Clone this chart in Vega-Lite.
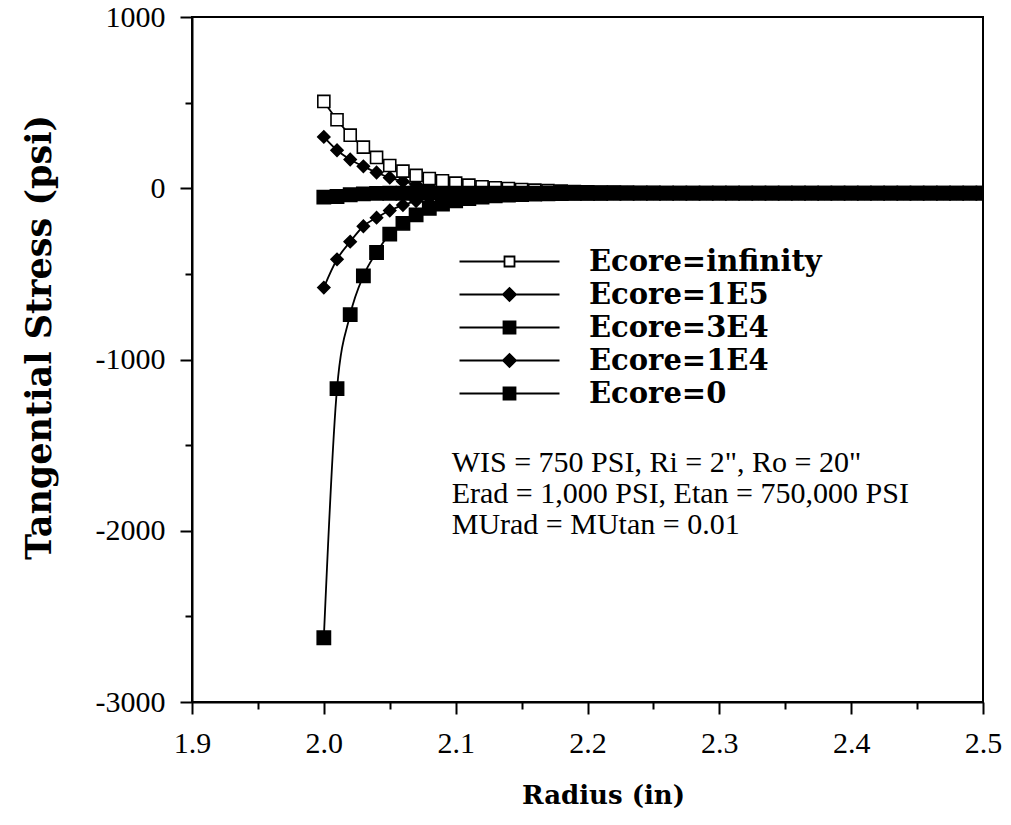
{
"$schema": "https://vega.github.io/schema/vega-lite/v6.json",
"width": 791, "height": 685,
"autosize": {"type": "none"},
"padding": {"left": 192, "top": 17, "right": 28, "bottom": 123},
"background": "white",
"config": {
 "view": {"stroke": "black", "strokeWidth": 2},
 "axis": {"domainColor": "black", "domainWidth": 2, "tickColor": "black", "tickWidth": 2, "labelColor": "black", "labelFont": "Liberation Serif", "labelFontSize": 30, "titleColor": "black", "titleFont": "DejaVu Serif", "titleFontWeight": "bold", "titleFontSize": 26, "grid": false},
 "legend": {"orient": "none", "legendX": 303, "legendY": 230, "padding": 0, "symbolSize": 400, "labelOffset": 65, "labelFont": "DejaVu Serif", "labelFontWeight": "bold", "labelFontSize": 29, "labelColor": "black", "labelLimit": 400, "rowPadding": 3, "symbolOpacity": 1, "symbolStrokeColor": "black", "symbolStrokeWidth": 1.8}
},
"datasets": {
"notes": [
 {"r": 2.097, "s": -1604, "label": "WIS = 750 PSI, Ri = 2\", Ro = 20\""},
 {"r": 2.097, "s": -1784, "label": "Erad = 1,000 PSI, Etan = 750,000 PSI"},
 {"r": 2.097, "s": -1964, "label": "MUrad = MUtan = 0.01"}
],
"curves": [
{"r":2.00,"s":300,"k":"Ecore=1E5"},{"r":2.01,"s":222,"k":"Ecore=1E5"},{"r":2.02,"s":168,"k":"Ecore=1E5"},{"r":2.03,"s":128,"k":"Ecore=1E5"},{"r":2.04,"s":92,"k":"Ecore=1E5"},{"r":2.05,"s":62,"k":"Ecore=1E5"},{"r":2.06,"s":40,"k":"Ecore=1E5"},{"r":2.07,"s":22,"k":"Ecore=1E5"},{"r":2.08,"s":10,"k":"Ecore=1E5"},{"r":2.09,"s":0,"k":"Ecore=1E5"},
{"r":2.10,"s":-7,"k":"Ecore=1E5"},{"r":2.11,"s":-12,"k":"Ecore=1E5"},{"r":2.12,"s":-16,"k":"Ecore=1E5"},{"r":2.13,"s":-19,"k":"Ecore=1E5"},{"r":2.14,"s":-21,"k":"Ecore=1E5"},{"r":2.15,"s":-23,"k":"Ecore=1E5"},{"r":2.16,"s":-24,"k":"Ecore=1E5"},{"r":2.17,"s":-25,"k":"Ecore=1E5"},{"r":2.18,"s":-26,"k":"Ecore=1E5"},{"r":2.19,"s":-26,"k":"Ecore=1E5"},
{"r":2.20,"s":-27,"k":"Ecore=1E5"},{"r":2.21,"s":-27,"k":"Ecore=1E5"},{"r":2.22,"s":-27,"k":"Ecore=1E5"},{"r":2.23,"s":-27,"k":"Ecore=1E5"},{"r":2.24,"s":-28,"k":"Ecore=1E5"},{"r":2.25,"s":-28,"k":"Ecore=1E5"},{"r":2.26,"s":-28,"k":"Ecore=1E5"},{"r":2.27,"s":-28,"k":"Ecore=1E5"},{"r":2.28,"s":-28,"k":"Ecore=1E5"},{"r":2.29,"s":-28,"k":"Ecore=1E5"},
{"r":2.30,"s":-28,"k":"Ecore=1E5"},{"r":2.31,"s":-28,"k":"Ecore=1E5"},{"r":2.32,"s":-28,"k":"Ecore=1E5"},{"r":2.33,"s":-28,"k":"Ecore=1E5"},{"r":2.34,"s":-28,"k":"Ecore=1E5"},{"r":2.35,"s":-28,"k":"Ecore=1E5"},{"r":2.36,"s":-28,"k":"Ecore=1E5"},{"r":2.37,"s":-28,"k":"Ecore=1E5"},{"r":2.38,"s":-28,"k":"Ecore=1E5"},{"r":2.39,"s":-28,"k":"Ecore=1E5"},
{"r":2.40,"s":-28,"k":"Ecore=1E5"},{"r":2.41,"s":-28,"k":"Ecore=1E5"},{"r":2.42,"s":-28,"k":"Ecore=1E5"},{"r":2.43,"s":-28,"k":"Ecore=1E5"},{"r":2.44,"s":-28,"k":"Ecore=1E5"},{"r":2.45,"s":-28,"k":"Ecore=1E5"},{"r":2.46,"s":-28,"k":"Ecore=1E5"},{"r":2.47,"s":-28,"k":"Ecore=1E5"},{"r":2.48,"s":-28,"k":"Ecore=1E5"},{"r":2.49,"s":-28,"k":"Ecore=1E5"},{"r":2.50,"s":-28,"k":"Ecore=1E5"},

{"r":2.00,"s":507,"k":"Ecore=infinity"},{"r":2.01,"s":400,"k":"Ecore=infinity"},{"r":2.02,"s":310,"k":"Ecore=infinity"},{"r":2.03,"s":240,"k":"Ecore=infinity"},{"r":2.04,"s":180,"k":"Ecore=infinity"},{"r":2.05,"s":133,"k":"Ecore=infinity"},{"r":2.06,"s":100,"k":"Ecore=infinity"},{"r":2.07,"s":75,"k":"Ecore=infinity"},{"r":2.08,"s":57,"k":"Ecore=infinity"},{"r":2.09,"s":44,"k":"Ecore=infinity"},
{"r":2.10,"s":30,"k":"Ecore=infinity"},{"r":2.11,"s":18,"k":"Ecore=infinity"},{"r":2.12,"s":9,"k":"Ecore=infinity"},{"r":2.13,"s":3,"k":"Ecore=infinity"},{"r":2.14,"s":-2,"k":"Ecore=infinity"},{"r":2.15,"s":-7,"k":"Ecore=infinity"},{"r":2.16,"s":-11,"k":"Ecore=infinity"},{"r":2.17,"s":-14,"k":"Ecore=infinity"},{"r":2.18,"s":-17,"k":"Ecore=infinity"},{"r":2.19,"s":-19,"k":"Ecore=infinity"},
{"r":2.20,"s":-21,"k":"Ecore=infinity"},{"r":2.21,"s":-22,"k":"Ecore=infinity"},{"r":2.22,"s":-23,"k":"Ecore=infinity"},{"r":2.23,"s":-24,"k":"Ecore=infinity"},{"r":2.24,"s":-25,"k":"Ecore=infinity"},{"r":2.25,"s":-25,"k":"Ecore=infinity"},{"r":2.26,"s":-26,"k":"Ecore=infinity"},{"r":2.27,"s":-26,"k":"Ecore=infinity"},{"r":2.28,"s":-26,"k":"Ecore=infinity"},{"r":2.29,"s":-26,"k":"Ecore=infinity"},
{"r":2.30,"s":-27,"k":"Ecore=infinity"},{"r":2.31,"s":-27,"k":"Ecore=infinity"},{"r":2.32,"s":-27,"k":"Ecore=infinity"},{"r":2.33,"s":-27,"k":"Ecore=infinity"},{"r":2.34,"s":-27,"k":"Ecore=infinity"},{"r":2.35,"s":-27,"k":"Ecore=infinity"},{"r":2.36,"s":-28,"k":"Ecore=infinity"},{"r":2.37,"s":-28,"k":"Ecore=infinity"},{"r":2.38,"s":-28,"k":"Ecore=infinity"},{"r":2.39,"s":-28,"k":"Ecore=infinity"},
{"r":2.40,"s":-28,"k":"Ecore=infinity"},{"r":2.41,"s":-28,"k":"Ecore=infinity"},{"r":2.42,"s":-28,"k":"Ecore=infinity"},{"r":2.43,"s":-28,"k":"Ecore=infinity"},{"r":2.44,"s":-28,"k":"Ecore=infinity"},{"r":2.45,"s":-28,"k":"Ecore=infinity"},{"r":2.46,"s":-28,"k":"Ecore=infinity"},{"r":2.47,"s":-28,"k":"Ecore=infinity"},{"r":2.48,"s":-28,"k":"Ecore=infinity"},{"r":2.49,"s":-28,"k":"Ecore=infinity"},{"r":2.50,"s":-28,"k":"Ecore=infinity"},

{"r":2.00,"s":-580,"k":"Ecore=1E4"},{"r":2.01,"s":-415,"k":"Ecore=1E4"},{"r":2.02,"s":-312,"k":"Ecore=1E4"},{"r":2.03,"s":-222,"k":"Ecore=1E4"},{"r":2.04,"s":-172,"k":"Ecore=1E4"},{"r":2.05,"s":-130,"k":"Ecore=1E4"},{"r":2.06,"s":-98,"k":"Ecore=1E4"},{"r":2.07,"s":-75,"k":"Ecore=1E4"},{"r":2.08,"s":-58,"k":"Ecore=1E4"},{"r":2.09,"s":-47,"k":"Ecore=1E4"},
{"r":2.10,"s":-40,"k":"Ecore=1E4"},{"r":2.11,"s":-36,"k":"Ecore=1E4"},{"r":2.12,"s":-33,"k":"Ecore=1E4"},{"r":2.13,"s":-31,"k":"Ecore=1E4"},{"r":2.14,"s":-30,"k":"Ecore=1E4"},{"r":2.15,"s":-29,"k":"Ecore=1E4"},{"r":2.16,"s":-29,"k":"Ecore=1E4"},{"r":2.17,"s":-28,"k":"Ecore=1E4"},{"r":2.18,"s":-28,"k":"Ecore=1E4"},{"r":2.19,"s":-28,"k":"Ecore=1E4"},
{"r":2.20,"s":-28,"k":"Ecore=1E4"},{"r":2.21,"s":-28,"k":"Ecore=1E4"},{"r":2.22,"s":-28,"k":"Ecore=1E4"},{"r":2.23,"s":-28,"k":"Ecore=1E4"},{"r":2.24,"s":-28,"k":"Ecore=1E4"},{"r":2.25,"s":-28,"k":"Ecore=1E4"},{"r":2.26,"s":-28,"k":"Ecore=1E4"},{"r":2.27,"s":-28,"k":"Ecore=1E4"},{"r":2.28,"s":-28,"k":"Ecore=1E4"},{"r":2.29,"s":-28,"k":"Ecore=1E4"},
{"r":2.30,"s":-28,"k":"Ecore=1E4"},{"r":2.31,"s":-28,"k":"Ecore=1E4"},{"r":2.32,"s":-28,"k":"Ecore=1E4"},{"r":2.33,"s":-28,"k":"Ecore=1E4"},{"r":2.34,"s":-28,"k":"Ecore=1E4"},{"r":2.35,"s":-28,"k":"Ecore=1E4"},{"r":2.36,"s":-28,"k":"Ecore=1E4"},{"r":2.37,"s":-28,"k":"Ecore=1E4"},{"r":2.38,"s":-28,"k":"Ecore=1E4"},{"r":2.39,"s":-28,"k":"Ecore=1E4"},
{"r":2.40,"s":-28,"k":"Ecore=1E4"},{"r":2.41,"s":-28,"k":"Ecore=1E4"},{"r":2.42,"s":-28,"k":"Ecore=1E4"},{"r":2.43,"s":-28,"k":"Ecore=1E4"},{"r":2.44,"s":-28,"k":"Ecore=1E4"},{"r":2.45,"s":-28,"k":"Ecore=1E4"},{"r":2.46,"s":-28,"k":"Ecore=1E4"},{"r":2.47,"s":-28,"k":"Ecore=1E4"},{"r":2.48,"s":-28,"k":"Ecore=1E4"},{"r":2.49,"s":-28,"k":"Ecore=1E4"},{"r":2.50,"s":-28,"k":"Ecore=1E4"},

{"r":2.00,"s":-2625,"k":"Ecore=0"},{"r":2.01,"s":-1170,"k":"Ecore=0"},{"r":2.02,"s":-738,"k":"Ecore=0"},{"r":2.03,"s":-512,"k":"Ecore=0"},{"r":2.04,"s":-375,"k":"Ecore=0"},{"r":2.05,"s":-268,"k":"Ecore=0"},{"r":2.06,"s":-205,"k":"Ecore=0"},{"r":2.07,"s":-155,"k":"Ecore=0"},{"r":2.08,"s":-118,"k":"Ecore=0"},{"r":2.09,"s":-92,"k":"Ecore=0"},
{"r":2.10,"s":-74,"k":"Ecore=0"},{"r":2.11,"s":-61,"k":"Ecore=0"},{"r":2.12,"s":-52,"k":"Ecore=0"},{"r":2.13,"s":-45,"k":"Ecore=0"},{"r":2.14,"s":-40,"k":"Ecore=0"},{"r":2.15,"s":-37,"k":"Ecore=0"},{"r":2.16,"s":-34,"k":"Ecore=0"},{"r":2.17,"s":-32,"k":"Ecore=0"},{"r":2.18,"s":-31,"k":"Ecore=0"},{"r":2.19,"s":-30,"k":"Ecore=0"},
{"r":2.20,"s":-29,"k":"Ecore=0"},{"r":2.21,"s":-29,"k":"Ecore=0"},{"r":2.22,"s":-28,"k":"Ecore=0"},{"r":2.23,"s":-28,"k":"Ecore=0"},{"r":2.24,"s":-28,"k":"Ecore=0"},{"r":2.25,"s":-28,"k":"Ecore=0"},{"r":2.26,"s":-28,"k":"Ecore=0"},{"r":2.27,"s":-28,"k":"Ecore=0"},{"r":2.28,"s":-28,"k":"Ecore=0"},{"r":2.29,"s":-28,"k":"Ecore=0"},
{"r":2.30,"s":-28,"k":"Ecore=0"},{"r":2.31,"s":-28,"k":"Ecore=0"},{"r":2.32,"s":-28,"k":"Ecore=0"},{"r":2.33,"s":-28,"k":"Ecore=0"},{"r":2.34,"s":-28,"k":"Ecore=0"},{"r":2.35,"s":-28,"k":"Ecore=0"},{"r":2.36,"s":-28,"k":"Ecore=0"},{"r":2.37,"s":-28,"k":"Ecore=0"},{"r":2.38,"s":-28,"k":"Ecore=0"},{"r":2.39,"s":-28,"k":"Ecore=0"},
{"r":2.40,"s":-28,"k":"Ecore=0"},{"r":2.41,"s":-28,"k":"Ecore=0"},{"r":2.42,"s":-28,"k":"Ecore=0"},{"r":2.43,"s":-28,"k":"Ecore=0"},{"r":2.44,"s":-28,"k":"Ecore=0"},{"r":2.45,"s":-28,"k":"Ecore=0"},{"r":2.46,"s":-28,"k":"Ecore=0"},{"r":2.47,"s":-28,"k":"Ecore=0"},{"r":2.48,"s":-28,"k":"Ecore=0"},{"r":2.49,"s":-28,"k":"Ecore=0"},{"r":2.50,"s":-28,"k":"Ecore=0"},

{"r":2.00,"s":-52,"k":"Ecore=3E4"},{"r":2.01,"s":-48,"k":"Ecore=3E4"},{"r":2.02,"s":-38,"k":"Ecore=3E4"},{"r":2.03,"s":-33,"k":"Ecore=3E4"},{"r":2.04,"s":-30,"k":"Ecore=3E4"},{"r":2.05,"s":-29,"k":"Ecore=3E4"},{"r":2.06,"s":-29,"k":"Ecore=3E4"},{"r":2.07,"s":-28,"k":"Ecore=3E4"},{"r":2.08,"s":-28,"k":"Ecore=3E4"},{"r":2.09,"s":-28,"k":"Ecore=3E4"},
{"r":2.10,"s":-28,"k":"Ecore=3E4"},{"r":2.11,"s":-28,"k":"Ecore=3E4"},{"r":2.12,"s":-28,"k":"Ecore=3E4"},{"r":2.13,"s":-28,"k":"Ecore=3E4"},{"r":2.14,"s":-28,"k":"Ecore=3E4"},{"r":2.15,"s":-28,"k":"Ecore=3E4"},{"r":2.16,"s":-28,"k":"Ecore=3E4"},{"r":2.17,"s":-28,"k":"Ecore=3E4"},{"r":2.18,"s":-28,"k":"Ecore=3E4"},{"r":2.19,"s":-28,"k":"Ecore=3E4"},
{"r":2.20,"s":-28,"k":"Ecore=3E4"},{"r":2.21,"s":-28,"k":"Ecore=3E4"},{"r":2.22,"s":-28,"k":"Ecore=3E4"},{"r":2.23,"s":-28,"k":"Ecore=3E4"},{"r":2.24,"s":-28,"k":"Ecore=3E4"},{"r":2.25,"s":-28,"k":"Ecore=3E4"},{"r":2.26,"s":-28,"k":"Ecore=3E4"},{"r":2.27,"s":-28,"k":"Ecore=3E4"},{"r":2.28,"s":-28,"k":"Ecore=3E4"},{"r":2.29,"s":-28,"k":"Ecore=3E4"},
{"r":2.30,"s":-28,"k":"Ecore=3E4"},{"r":2.31,"s":-28,"k":"Ecore=3E4"},{"r":2.32,"s":-28,"k":"Ecore=3E4"},{"r":2.33,"s":-28,"k":"Ecore=3E4"},{"r":2.34,"s":-28,"k":"Ecore=3E4"},{"r":2.35,"s":-28,"k":"Ecore=3E4"},{"r":2.36,"s":-28,"k":"Ecore=3E4"},{"r":2.37,"s":-28,"k":"Ecore=3E4"},{"r":2.38,"s":-28,"k":"Ecore=3E4"},{"r":2.39,"s":-28,"k":"Ecore=3E4"},
{"r":2.40,"s":-28,"k":"Ecore=3E4"},{"r":2.41,"s":-28,"k":"Ecore=3E4"},{"r":2.42,"s":-28,"k":"Ecore=3E4"},{"r":2.43,"s":-28,"k":"Ecore=3E4"},{"r":2.44,"s":-28,"k":"Ecore=3E4"},{"r":2.45,"s":-28,"k":"Ecore=3E4"},{"r":2.46,"s":-28,"k":"Ecore=3E4"},{"r":2.47,"s":-28,"k":"Ecore=3E4"},{"r":2.48,"s":-28,"k":"Ecore=3E4"},{"r":2.49,"s":-28,"k":"Ecore=3E4"},{"r":2.50,"s":-28,"k":"Ecore=3E4"}
]
},
"layer": [
 {
  "data": {"name": "curves"},
  "mark": {"type": "line", "interpolate": "monotone", "color": "black", "strokeWidth": 1.8, "clip": true},
  "encoding": {
   "x": {"field": "r", "type": "quantitative", "scale": {"domain": [1.9, 2.5], "nice": false, "zero": false},
         "axis": {"orient": "bottom", "values": [1.9, 2.0, 2.1, 2.2, 2.3, 2.4, 2.5], "format": ".1f", "tickSize": 12, "labelPadding": 14, "labelFlush": false, "labelOverlap": false, "title": "Radius (in)", "titleX": 411, "titleY": 93, "titleBaseline": "middle", "titleAlign": "center"}},
   "y": {"field": "s", "type": "quantitative", "scale": {"domain": [-3000, 1000], "nice": false, "zero": false},
         "axis": {"orient": "left", "values": [-3000, -2000, -1000, 0, 1000], "format": "d", "labelExpr": "replace(datum.label, '\u2212', '-')", "tickSize": 12, "labelPadding": 15, "labelFlush": false, "labelOverlap": false, "title": "Tangential Stress (psi)", "titleFontSize": 35, "titleX": -153, "titleY": 320, "titleBaseline": "middle", "titleAlign": "center", "titleAngle": -90}},
   "detail": {"field": "k", "type": "nominal"}
  }
 },
 {
  "data": {"name": "curves"},
  "mark": {"type": "point", "filled": true, "opacity": 1, "stroke": "black", "strokeWidth": 1.6, "clip": true},
  "encoding": {
   "x": {"field": "r", "type": "quantitative", "axis": null},
   "y": {"field": "s", "type": "quantitative", "axis": null},
   "shape": {"condition": {"test": "indexof(datum.k, '1E') >= 0", "value": "diamond"}, "value": "square"},
   "fill": {"condition": {"test": "datum.k == 'Ecore=infinity'", "value": "white"}, "value": "black"},
   "size": {"condition": {"test": "datum.k == 'Ecore=infinity' || datum.k == 'Ecore=1E5' || datum.k == 'Ecore=1E4'", "value": 145}, "value": 175}
  }
 },
 {
  "data": {"name": "curves"},
  "transform": [{"filter": "datum.r > 10"}],
  "mark": {"type": "point", "filled": true, "opacity": 1, "stroke": "black", "strokeWidth": 1.8},
  "encoding": {
   "x": {"field": "r", "type": "quantitative", "axis": null},
   "y": {"field": "s", "type": "quantitative", "axis": null},
   "shape": {"field": "k", "type": "nominal",
     "scale": {"domain": ["Ecore=infinity", "Ecore=1E5", "Ecore=3E4", "Ecore=1E4", "Ecore=0"],
               "range": ["M-5,0L-0.5,0M0.5,0L5,0M-0.5,-0.5L0.5,-0.5L0.5,0.5L-0.5,0.5Z", "M-5,0L5,0M-0.65,0L0,-0.65L0.65,0L0,0.65Z", "M-5,0L5,0M-0.6,-0.6L0.6,-0.6L0.6,0.6L-0.6,0.6Z", "M-5,0L5,0M-0.65,0L0,-0.65L0.65,0L0,0.65Z", "M-5,0L5,0M-0.6,-0.6L0.6,-0.6L0.6,0.6L-0.6,0.6Z"]},
     "legend": {"title": null}},
   "fill": {"field": "k", "type": "nominal",
     "scale": {"domain": ["Ecore=infinity", "Ecore=1E5", "Ecore=3E4", "Ecore=1E4", "Ecore=0"], "range": ["white", "black", "black", "black", "black"]},
     "legend": {"title": null}},
   "stroke": {"field": "k", "type": "nominal",
     "scale": {"domain": ["Ecore=infinity", "Ecore=1E5", "Ecore=3E4", "Ecore=1E4", "Ecore=0"], "range": ["black", "black", "black", "black", "black"]},
     "legend": {"title": null}}
  }
 },
 {
  "data": {"name": "notes"},
  "mark": {"type": "text", "align": "left", "baseline": "middle", "font": "Liberation Serif", "fontSize": 30, "color": "black"},
  "encoding": {
   "x": {"field": "r", "type": "quantitative", "axis": {"orient": "bottom", "values": [1.95, 2.05, 2.15, 2.25, 2.35, 2.45], "labels": false, "tickSize": 7, "domain": false, "title": null}},
   "y": {"field": "s", "type": "quantitative", "axis": {"orient": "left", "values": [-2500, -1500, -500, 500], "labels": false, "tickSize": 7, "domain": false, "title": null}},
   "text": {"field": "label", "type": "nominal"}
  }
 }
],
"resolve": {"axis": {"x": "independent", "y": "independent"}}
}
